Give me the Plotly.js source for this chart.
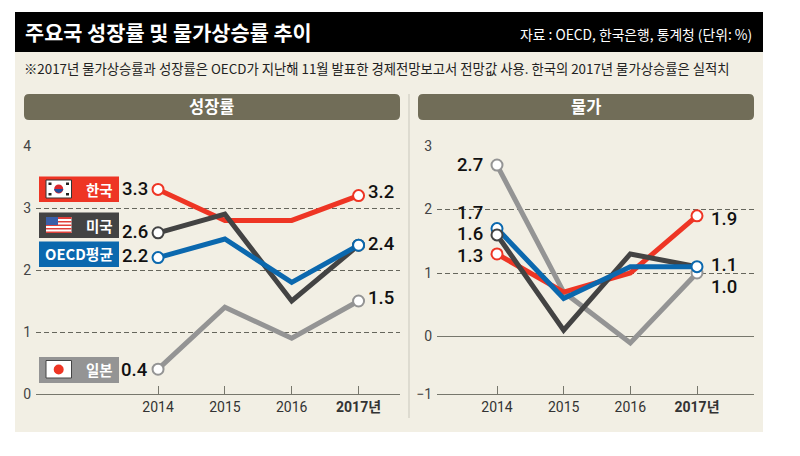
<!DOCTYPE html>
<html><head><meta charset="utf-8">
<script src="https://cdn.plot.ly/plotly-3.0.1.min.js"></script>
<style>html,body{margin:0;padding:0;background:#fff}#c{width:800px;height:456px}</style>
</head><body><div id="c"></div>
<script>
const years = [2014, 2015, 2016, 2017];
const yearLabels = ['2014', '2015', '2016', '<b>2017년</b>'];

const growthKorea = [3.3, 2.8, 2.8, 3.2];
const growthUS = [2.6, 2.9, 1.5, 2.4];
const growthOECD = [2.2, 2.5, 1.8, 2.4];
const growthJapan = [0.4, 1.4, 0.9, 1.5];

const priceKorea = [1.3, 0.7, 1.0, 1.9];
const priceUS = [1.6, 0.1, 1.3, 1.1];
const priceOECD = [1.7, 0.6, 1.1, 1.1];
const priceJapan = [2.7, 0.7, -0.1, 1.0];

const RED = '#ee3524', DARK = '#434343', BLUE = '#0b68ae', GREY = '#949494';
const W = 800, H = 456;
const SANS = '"Noto Sans CJK KR","Noto Sans",sans-serif';
const NUM = 'Roboto,"Noto Sans CJK KR",sans-serif';
const px = x => x / W, py = y => 1 - y / H;

const traces = [];
function line(xa, ya, vals, color) {
  traces.push({x: years, y: vals, xaxis: xa, yaxis: ya, type: 'scatter', mode: 'lines',
    line: {color, width: 5, shape: 'linear'}, hoverinfo: 'skip', showlegend: false});
}
function dots(xa, ya, vals, color, idx) {
  traces.push({x: idx.map(i => years[i]), y: idx.map(i => vals[i]), xaxis: xa, yaxis: ya,
    type: 'scatter', mode: 'markers', hoverinfo: 'skip', showlegend: false,
    marker: {size: 11, color: '#fff', line: {color, width: 2}}});
}
// growth panel
line('x', 'y', growthJapan, GREY); line('x', 'y', growthKorea, RED);
line('x', 'y', growthUS, DARK); line('x', 'y', growthOECD, BLUE);
dots('x', 'y', growthJapan, GREY, [0, 3]); dots('x', 'y', growthKorea, RED, [0, 3]);
dots('x', 'y', growthUS, DARK, [0, 3]); dots('x', 'y', growthOECD, BLUE, [0, 3]);
// price panel
line('x2', 'y2', priceJapan, GREY); line('x2', 'y2', priceKorea, RED);
line('x2', 'y2', priceUS, DARK); line('x2', 'y2', priceOECD, BLUE);
dots('x2', 'y2', priceKorea, RED, [0, 3]); dots('x2', 'y2', priceJapan, GREY, [0, 3]);
dots('x2', 'y2', priceOECD, BLUE, [0]); dots('x2', 'y2', priceUS, DARK, [0]);
dots('x2', 'y2', priceOECD, BLUE, [3]);

function rect(x0, y0, x1, y1, fill, lineColor, layer) {
  return {type: 'rect', xref: 'paper', yref: 'paper', x0: px(x0), x1: px(x1), y0: py(y0), y1: py(y1),
    fillcolor: fill, line: {color: lineColor || fill, width: lineColor ? 1 : 0}, layer: layer || 'below'};
}
function circle(cx, cy, r, fill, layer) {
  return {type: 'circle', xref: 'paper', yref: 'paper', x0: px(cx - r), x1: px(cx + r), y0: py(cy + r), y1: py(cy - r),
    fillcolor: fill, line: {width: 0}, layer: layer || 'above'};
}
function pill(x0, y0, x1, y1, r, fill) {
  const X = v => px(v), Y = v => py(v);
  return {type: 'path', xref: 'paper', yref: 'paper', fillcolor: fill, line: {width: 0}, layer: 'below',
    path: `M ${X(x0 + r)} ${Y(y0)} L ${X(x1 - r)} ${Y(y0)} Q ${X(x1)} ${Y(y0)} ${X(x1)} ${Y(y0 + r)} L ${X(x1)} ${Y(y1 - r)} Q ${X(x1)} ${Y(y1)} ${X(x1 - r)} ${Y(y1)} L ${X(x0 + r)} ${Y(y1)} Q ${X(x0)} ${Y(y1)} ${X(x0)} ${Y(y1 - r)} L ${X(x0)} ${Y(y0 + r)} Q ${X(x0)} ${Y(y0)} ${X(x0 + r)} ${Y(y0)} Z`};
}
const shapes = [
  rect(15, 52, 763, 432, '#f2efe4'),
  rect(15, 12, 763, 52, '#000000'),
  pill(24, 94, 400, 120, 5, '#716d58'),
  pill(418, 94, 754, 120, 5, '#716d58'),
  {type: 'line', xref: 'paper', yref: 'paper', x0: px(409), x1: px(409), y0: py(94), y1: py(418), line: {color: '#c9c7bc', width: 1}, layer: 'below'},
  // label chips
  rect(39, 176.5, 119, 202, RED, null, 'above'),
  rect(39, 212.5, 119, 238, DARK, null, 'above'),
  rect(39, 241.5, 119, 267, BLUE, null, 'above'),
  rect(39, 357, 119, 383, GREY, null, 'above'),
  // Korean flag
  rect(46, 180, 71.5, 198, '#ffffff', '#333333', 'above'),
  circle(58.7, 189, 4.5, '#d8262c'),
  {type: 'path', xref: 'paper', yref: 'paper', fillcolor: '#1f4e9c', line: {width: 0}, layer: 'above',
   path: `M ${px(54.2)} ${py(189)} L ${px(63.2)} ${py(189)} L ${px(63.2)} ${py(190)} Q ${px(58.7)} ${py(196)} ${px(54.2)} ${py(190)} Z`},
  rect(48.5, 182.5, 51.5, 185, '#222222', null, 'above'), rect(66, 182.5, 69, 185, '#222222', null, 'above'),
  rect(48.5, 193, 51.5, 195.5, '#222222', null, 'above'), rect(66, 193, 69, 195.5, '#222222', null, 'above'),
  // US flag
  rect(46, 217, 71.5, 233, '#ffffff', null, 'above'),
  rect(46, 217, 71.5, 219, '#e0403a', null, 'above'), rect(46, 221, 71.5, 222.5, '#e0403a', null, 'above'),
  rect(46, 224.5, 71.5, 226, '#e0403a', null, 'above'), rect(46, 228, 71.5, 229.5, '#e0403a', null, 'above'),
  rect(46, 231.5, 71.5, 233, '#e0403a', null, 'above'),
  rect(46, 217, 58, 225, '#3a5fa8', null, 'above'),
  // Japan flag
  rect(46, 360.5, 71.5, 378, '#ffffff', '#444444', 'above'),
  circle(58.7, 369.5, 5, '#ee3524')
];

const annotations = [];
function txt(x, y, text, size, color, anchor, family, weight) {
  const font = {size, color, family: family || SANS};
  if (weight) font.weight = weight;
  annotations.push({xref: 'paper', yref: 'paper', x: px(x), y: py(y), text, showarrow: false,
    xanchor: anchor || 'left', yanchor: 'middle', align: anchor || 'left', font});
}
txt(22.5, 32, '<b>주요국 성장률 및 물가상승률 추이</b>', 20.8, '#ffffff');
txt(754, 34, '자료 : OECD, 한국은행, 통계청 (단위: %)', 13.8, '#ffffff', 'right');
txt(22, 68, '※2017년 물가상승률과 성장률은 OECD가 지난해 11월 발표한 경제전망보고서 전망값 사용. 한국의 2017년 물가상승률은 실적치', 13.35, '#222222');
txt(212, 106.5, '<b>성장률</b>', 16.5, '#ffffff', 'center');
txt(586, 106.5, '<b>물가</b>', 16.5, '#ffffff', 'center');
txt(115, 189, '<b>한국</b>', 14.5, '#ffffff', 'right');
txt(115, 225, '<b>미국</b>', 14.5, '#ffffff', 'right');
txt(115, 254, '<b>OECD평균</b>', 14.8, '#ffffff', 'right');
txt(115, 369, '<b>일본</b>', 14.5, '#ffffff', 'right');

function val(x, y, v, anchor) { txt(x, y, v.toFixed(1), 18.5, '#111111', anchor, NUM, 500); }
const leftOf = 150, rightOfL = 366;
val(leftOf, 189, growthKorea[0], 'right'); val(leftOf, 232, growthUS[0], 'right');
val(leftOf, 255.5, growthOECD[0], 'right'); val(leftOf, 369.5, growthJapan[0], 'right');
val(rightOfL, 192, growthKorea[3]); val(rightOfL, 244, growthOECD[3]); val(rightOfL, 298, growthJapan[3]);
const leftOfP = 485;
val(leftOfP, 165, priceJapan[0], 'right'); val(leftOfP, 213, priceOECD[0], 'right');
val(leftOfP, 234.5, priceUS[0], 'right'); val(leftOfP, 256, priceKorea[0], 'right');
val(709, 219, priceKorea[3]); val(709, 265, priceOECD[3]); val(709, 287, priceJapan[3]);

const baseY = {showline: false, zeroline: false, ticks: 'outside', ticklen: 1, tickcolor: 'rgba(0,0,0,0)',
  tickfont: {size: 14, color: '#444', family: NUM},
  showgrid: true, gridcolor: '#66665c', griddash: '5px,3px', gridwidth: 1, fixedrange: true};
const baseX = {type: 'linear', showgrid: false, zeroline: false, showline: true, linecolor: '#77776c', linewidth: 1,
  ticks: 'inside', ticklen: 8, tickcolor: '#77776c', tickwidth: 1, tickvals: years, ticktext: yearLabels,
  tickfont: {size: 14, color: '#333', family: NUM}, fixedrange: true};

const layout = {
  width: W, height: H, margin: {l: 0, r: 0, t: 0, b: 0}, paper_bgcolor: '#ffffff', plot_bgcolor: 'rgba(0,0,0,0)',
  showlegend: false, shapes, annotations, font: {family: SANS},
  xaxis: Object.assign({}, baseX, {domain: [px(36), px(400)], range: [2012.174, 2017.62], anchor: 'y'}),
  yaxis: Object.assign({}, baseY, {domain: [py(394), py(146)], range: [0, 4], tickvals: [0, 1, 2, 3, 4], anchor: 'x'}),
  xaxis2: Object.assign({}, baseX, {domain: [px(437), px(754)], range: [2013.1, 2017.855], anchor: 'y2'}),
  yaxis2: Object.assign({}, baseY, {domain: [py(394), py(146)], range: [-0.905, 3], tickvals: [-0.905, 0, 1, 2, 3], ticktext: ['−1', '0', '1', '2', '3'], anchor: 'x2',
    zeroline: true, zerolinecolor: '#77776c', zerolinewidth: 1.5})
};
Plotly.newPlot('c', traces, layout, {displayModeBar: false, staticPlot: true});
</script></body></html>
